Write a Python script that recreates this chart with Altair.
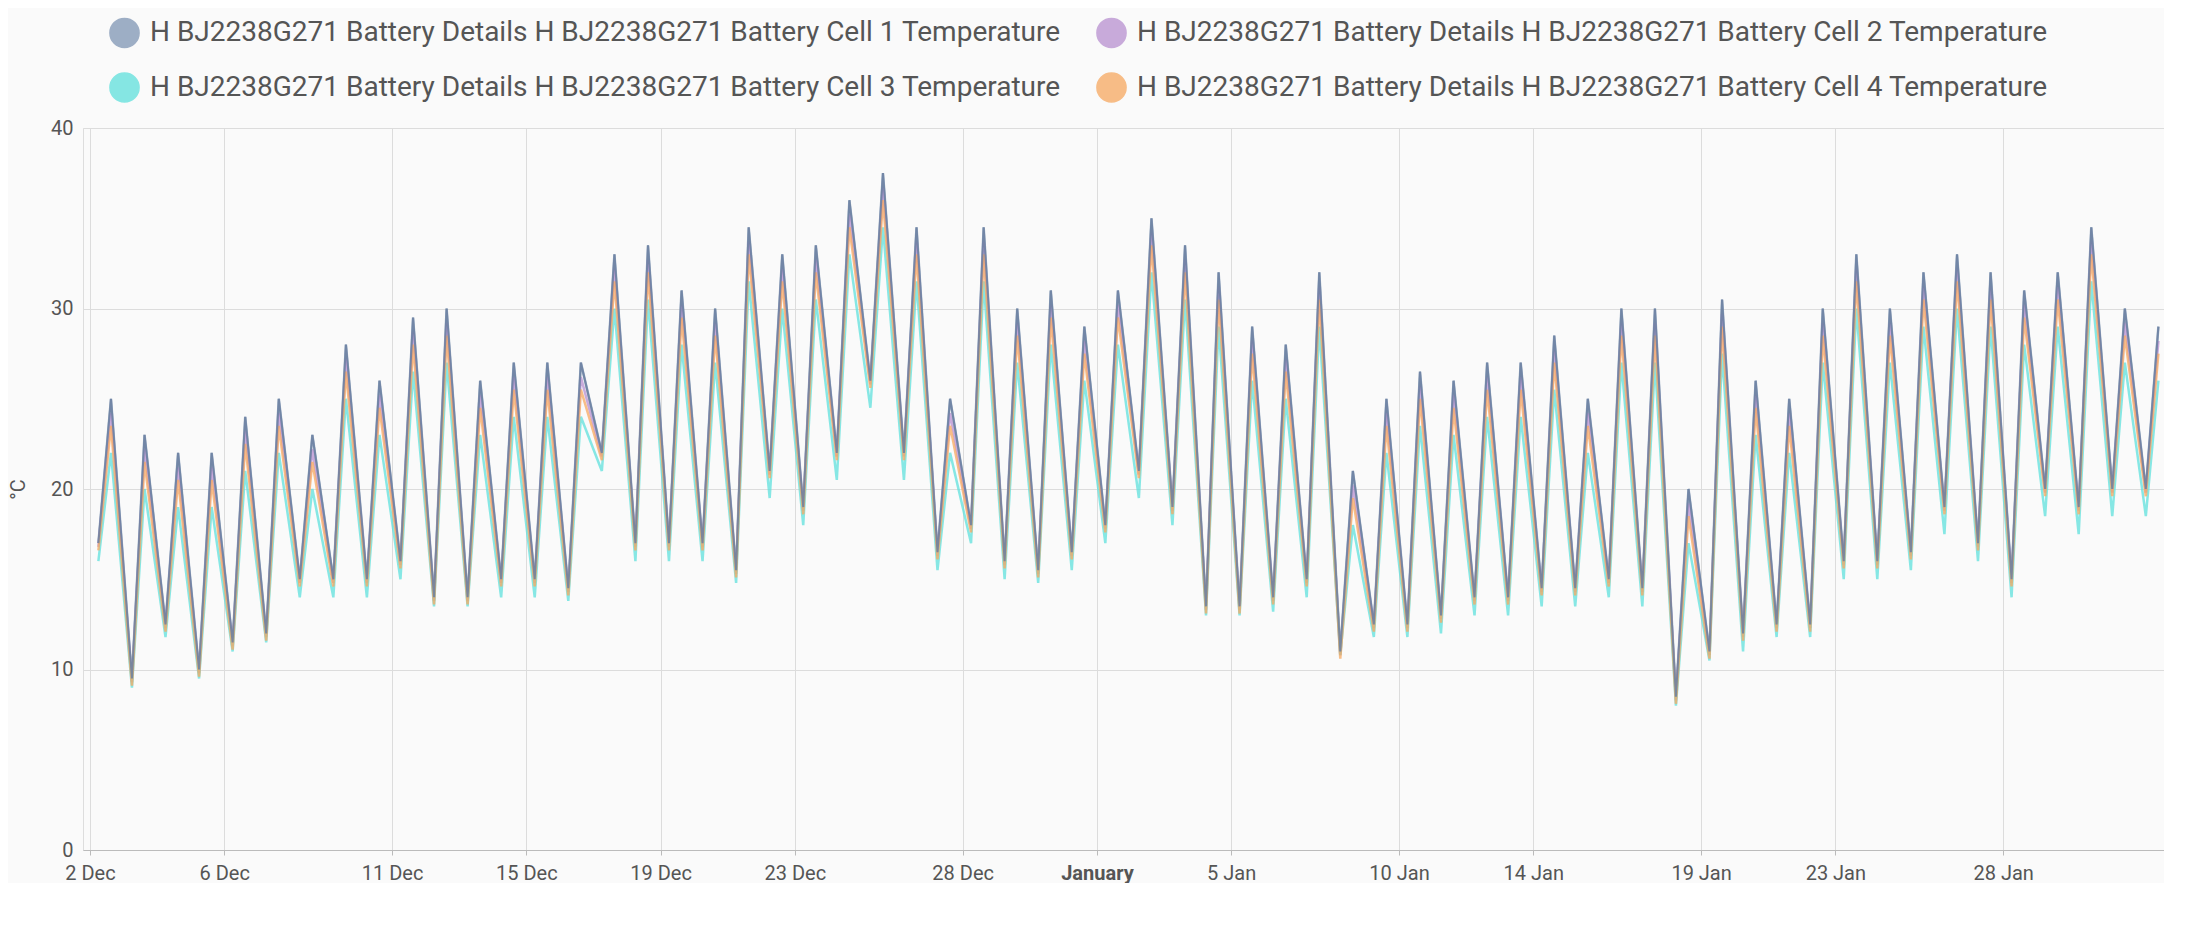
import altair as alt
import pandas as pd

names = ["H BJ2238G271 Battery Details H BJ2238G271 Battery Cell 1 Temperature",
         "H BJ2238G271 Battery Details H BJ2238G271 Battery Cell 2 Temperature",
         "H BJ2238G271 Battery Details H BJ2238G271 Battery Cell 3 Temperature",
         "H BJ2238G271 Battery Details H BJ2238G271 Battery Cell 4 Temperature"]
line_colors = ["#7f95b4", "#b890d0", "#5fe0dc", "#f7a860"]

hi1 = [25,23,22,22,24,25,23,28,26,29.5,30,26,27,27,27,33,33.5,31,30,34.5,33,33.5,36,37.5,34.5,25,34.5,30,31,29,
       31,35,33.5,32,29,28,32,21,25,26.5,26,27,27,28.5,25,30,30,20,30.5,26,25,30,33,30,32,33,32,31,32,34.5,30,29]
lo1 = [17,9.5,12.5,10,11.5,12,15,15,15,16,14,14,15,15,14.5,22,17,17,17,15.5,21,19,22,26,22,16.5,18,16,15.5,16.5,
       18,21,19,13.5,13.5,14,15,11,12.5,12.5,13,14,14,14.5,14.5,15,14.5,8.5,11,12,12.5,12.5,16,16,16.5,19,17,15,20,19,20,20]
hi2 = [24.2,22.2,21.2,21.2,23.2,24.2,22.2,27.2,25.2,28.7,29.2,25.2,26.2,26.2,26.2,32.2,32.7,30.2,29.2,33.7,
       32.2,32.7,35.2,36.7,33.7,24.2,33.7,29.2,30.2,28.2,30.2,34.2,32.7,31.2,28.2,27.2,31.2,20.2,24.2,25.7,
       25.2,26.2,26.2,27.7,24.2,29.2,29.2,19.2,29.7,25.2,24.2,29.2,32.2,29.2,31.2,32.2,31.2,30.2,31.2,33.7,29.2,28.2]
lo2 = [16.8,9.3,12.3,9.8,11.3,11.8,14.8,14.8,14.8,15.8,13.8,13.8,14.8,14.8,14.3,21.8,16.8,16.8,16.8,15.3,
       20.8,18.8,21.8,25.8,21.8,16.3,17.8,15.8,15.3,16.3,17.8,20.8,18.8,13.3,13.3,13.8,14.8,10.8,12.3,12.3,
       12.8,13.8,13.8,14.3,14.3,14.8,14.3,8.3,10.8,11.8,12.3,12.3,15.8,15.8,16.3,18.8,16.8,14.8,19.8,18.8,19.8,19.8]
hi3 = [22,20,19,19,21,22,20,25,23,26.5,27,23,24,24,24,30,30.5,28,27,31.5,30,30.5,33,34.5,31.5,22,31.5,27,28,26,
       28,32,30.5,29,26,25,29,18,22,23.5,23,24,24,25.5,22,27,27,17,27.5,23,22,27,30,27,29,30,29,28,29,31.5,27,26]
lo3 = [16,9,11.8,9.5,11,11.5,14,14,14,15,13.5,13.5,14,14,13.8,21,16,16,16,14.8,19.5,18,20.5,24.5,20.5,15.5,17,15,14.8,15.5,
       17,19.5,18,13,13,13.2,14,10.8,11.8,11.8,12,13,13,13.5,13.5,14,13.5,8,10.5,11,11.8,11.8,15,15,15.5,17.5,16,14,18.5,17.5,18.5,18.5]
hi4 = [23.5,21.5,20.5,20.5,22.5,23.5,21.5,26.5,24.5,28,28.5,24.5,25.5,25.5,25.5,31.5,32,29.5,28.5,33,
       31.5,32,34.5,36,33,23.5,33,28.5,29.5,27.5,29.5,33.5,32,30.5,27.5,26.5,30.5,19.5,23.5,25,
       24.5,25.5,25.5,27,23.5,28.5,28.5,18.5,29,24.5,23.5,28.5,31.5,28.5,30.5,31.5,30.5,29.5,30.5,33,28.5,27.5]
lo4 = [16.6,9.1,12.1,9.6,11.1,11.6,14.6,14.6,14.6,15.6,13.6,13.6,14.6,14.6,14.1,21.6,16.6,16.6,16.6,15.1,
       20.6,18.6,21.6,25.6,21.6,16.1,17.6,15.6,15.1,16.1,17.6,20.6,18.6,13.1,13.1,13.6,14.6,10.6,12.1,12.1,
       12.6,13.6,13.6,14.1,14.1,14.6,14.1,8.1,10.6,11.6,12.1,12.1,15.6,15.6,16.1,18.6,16.6,14.6,19.6,18.6,19.6,19.6]

series = [(hi1, lo1), (hi2, lo2), (hi3, lo3), (hi4, lo4)]
days = pd.date_range("2023-12-02", periods=62, freq="D")
rows = []
for k, (hi, lo) in enumerate(series):
    for d, h, l in zip(days, hi, lo):
        rows.append({"t": (d + pd.Timedelta(hours=6)).strftime("%Y-%m-%dT%H:%M:00Z"), "v": l, "s": names[k], "o": k})
        rows.append({"t": (d + pd.Timedelta(hours=15)).strftime("%Y-%m-%dT%H:%M:00Z"), "v": h, "s": names[k], "o": k})
df = pd.DataFrame(rows)

tick_days = [(2023, 12, 2), (2023, 12, 6), (2023, 12, 11), (2023, 12, 15), (2023, 12, 19), (2023, 12, 23),
             (2023, 12, 28), (2024, 1, 1), (2024, 1, 5), (2024, 1, 10), (2024, 1, 14), (2024, 1, 19),
             (2024, 1, 23), (2024, 1, 28)]
tick_vals = [alt.DateTime(year=y, month=m, date=d, utc=True) for y, m, d in tick_days]

xscale = alt.Scale(type="utc", domain=[alt.DateTime(year=2023, month=12, date=1, hours=19, utc=True),
                                       alt.DateTime(year=2024, month=2, date=1, hours=19, utc=True)])
yscale = alt.Scale(domain=[0, 40])
x = alt.X("t:T", scale=xscale, axis=alt.Axis(
    values=tick_vals, title=None, grid=True, gridColor="#dcdcdc", domainColor="#bbbbbb", tickColor="#bbbbbb",
    labelFontSize=20, labelColor="#555555", labelPadding=8,
    labelExpr="utcmonth(datum.value)==0 && utcdate(datum.value)==1 ? 'January' : utcFormat(datum.value, '%-d %b')",
    labelFontWeight=alt.ExprRef("utcmonth(datum.value)==0 && utcdate(datum.value)==1 ? 'bold' : 'normal'")))
y = alt.Y("v:Q", scale=yscale, axis=alt.Axis(values=[0, 10, 20, 30, 40], title="°C", titleFontSize=20,
    titleColor="#555555", titleFontWeight="normal", titlePadding=22, labelFontSize=20, labelColor="#555555",
    gridColor="#dcdcdc", domain=False, ticks=False, labelPadding=10))

color = alt.Color("s:N", scale=alt.Scale(domain=names, range=line_colors), legend=alt.Legend(
    title=None, orient="none", legendX=26, legendY=-111, direction="horizontal", columns=2, columnPadding=32,
    symbolType="circle", symbolSize=850, labelFontSize=28, labelColor="#555555", labelLimit=1200,
    rowPadding=18, symbolStrokeWidth=1.5, symbolOpacity=0.75, labelFont="Roboto", labelOffset=10))

leg = alt.Chart(df).mark_circle(size=0, opacity=0.7).encode(x=x, y=y, color=color)

lines = alt.Chart(df).mark_line(interpolate="linear", strokeWidth=2.5, opacity=0.75).encode(
    x=x, y=y, color=color, order=alt.Order("o:Q"), detail="s:N")
top = alt.Chart(df[df.o == 0]).mark_line(interpolate="linear", strokeWidth=2, color="#6a7fa0", opacity=0.85).encode(x=x, y=y)

chart = alt.layer(leg, lines, top).properties(width=2081, height=722, background="#fafafa",
    padding={"left": 0, "top": 9, "right": 0, "bottom": 0}).configure_view(stroke=None).configure(font="Roboto")

chart.save("out.html", embed_options={"renderer": "svg", "actions": False})
